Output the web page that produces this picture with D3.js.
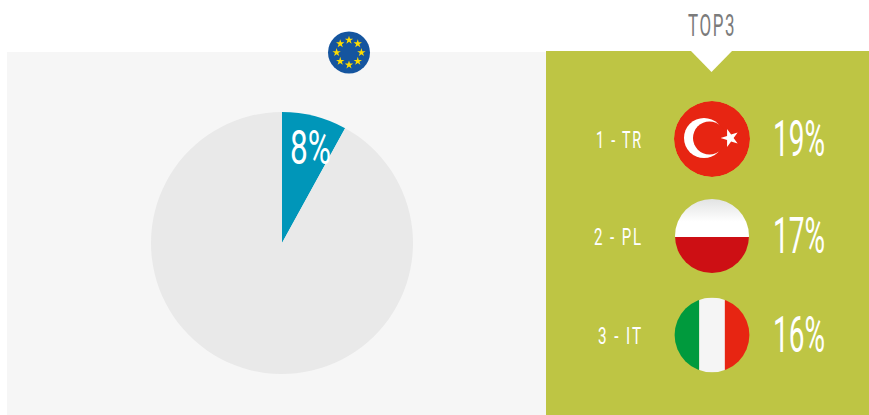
<!DOCTYPE html>
<html>
<head>
<meta charset="utf-8">
<script src="https://cdnjs.cloudflare.com/ajax/libs/d3/7.8.5/d3.min.js"></script>
<style>
  html, body { margin: 0; padding: 0; background: #fff; }
  svg { display: block; }
  text { font-family: "Roboto", "Liberation Sans", sans-serif; font-weight: 400; fill: #fff; }
</style>
</head>
<body>
<svg id="chart" width="869" height="415"></svg>
<script>
// Values
const shareLabels = ["EU", "Other"];
const shareValues = [8, 92];
const topCodes = ["TR", "PL", "IT"];
const topValues = [19, 17, 16];
const headline = "TOP3";

const svg = d3.select("#chart");
const defs = svg.append("defs");

// Panels
svg.append("rect").attr("x", 7).attr("y", 52).attr("width", 539).attr("height", 363).attr("fill", "#f6f6f6");
svg.append("rect").attr("x", 546).attr("y", 51).attr("width", 323).attr("height", 364).attr("fill", "#bec544");
svg.append("path").attr("d", d3.line()([[690, 50], [733, 50], [711.5, 72]]) + "Z").attr("fill", "#fff");

// Pie
const pieCenter = [282, 243];
const pieRadius = 131;
const pieColor = d3.scaleOrdinal().domain(shareLabels).range(["#0096b9", "#e9e9e9"]);
const arcs = d3.pie().sort(null)(shareValues);
const arc = d3.arc().innerRadius(0).outerRadius(pieRadius);
svg.append("g").attr("transform", `translate(${pieCenter})`)
  .selectAll("path").data(arcs).join("path")
  .attr("d", arc)
  .attr("fill", (d, i) => pieColor(shareLabels[i]));

// Condensed display text: the drawn width is fixed so the glyphs narrow to fit
function label(parent, str, x, baseline, size, width, fill, tracking) {
  return parent.append("text")
    .attr("x", x).attr("y", baseline)
    .attr("font-size", size)
    .attr("textLength", width)
    .attr("lengthAdjust", "spacingAndGlyphs")
    .style("letter-spacing", (tracking || 0) + "px")
    .style("fill", fill || "#fff")
    .text(str);
}

label(svg, shareValues[0] + "%", 290, 163.5, 49, 41);
label(svg, headline, 688, 35.5, 32, 48, "#7b7b7b", 3);

// EU emblem
const eu = svg.append("g").attr("transform", "translate(349,52.5)");
eu.append("circle").attr("r", 21).attr("fill", "#15559f");
const euStars = d3.range(8).map(i => i * 45);
eu.selectAll("path").data(euStars).join("path")
  .attr("d", d3.symbol().type(d3.symbolStar).size(22)())
  .attr("transform", a => `rotate(${a}) translate(0,-12.4) rotate(${-a})`)
  .attr("fill", "#ffdc00");

// Ranking rows
const rowY = d3.scalePoint().domain(topCodes).range([139, 335]);
const rowNudge = { TR: 0, PL: -1, IT: 0 };
const rowRadius = { TR: 38, PL: 37, IT: 37.4 };
const codeX = { TR: 596, PL: 594, IT: 598 };
const codeWidth = { TR: 47, PL: 49, IT: 45 };
const flagX = 712;

const rows = svg.selectAll("g.row").data(topCodes).join("g")
  .attr("class", "row")
  .attr("transform", d => `translate(0,${rowY(d) + rowNudge[d]})`);

rows.each(function (code, i) {
  const row = d3.select(this);
  label(row, `${i + 1} - ${code}`, codeX[code], 9, 24, codeWidth[code], "#fff", 3);
  label(row, topValues[i] + "%", 773, 16.5, 50, 52);

  const r = rowRadius[code];
  const clipId = "clip-" + code;
  defs.append("clipPath").attr("id", clipId).append("circle").attr("cx", flagX).attr("r", r);
  const clipped = row.append("g").attr("clip-path", `url(#${clipId})`);

  if (code === "TR") {
    clipped.append("circle").attr("cx", flagX).attr("r", r).attr("fill", "#e72512");
    clipped.append("circle").attr("cx", flagX - 8).attr("cy", -1).attr("r", 20).attr("fill", "#fff");
    clipped.append("circle").attr("cx", flagX - 2.5).attr("cy", -1).attr("r", 16.5).attr("fill", "#e72512");
    clipped.append("path")
      .attr("d", d3.symbol().type(d3.symbolStar).size(100)())
      .attr("transform", `translate(${flagX + 18},-1) rotate(-18)`)
      .attr("fill", "#fff");
  } else if (code === "PL") {
    const grad = defs.append("linearGradient").attr("id", "pl-white")
      .attr("x1", 0).attr("y1", 0).attr("x2", 0).attr("y2", 1);
    grad.append("stop").attr("offset", 0).attr("stop-color", "#e2e3e3");
    grad.append("stop").attr("offset", 0.6).attr("stop-color", "#ffffff");
    clipped.append("rect").attr("x", flagX - r).attr("y", -r).attr("width", 2 * r).attr("height", r + 1).attr("fill", "url(#pl-white)");
    clipped.append("rect").attr("x", flagX - r).attr("y", 1).attr("width", 2 * r).attr("height", r).attr("fill", "#cd0f14");
  } else {
    const stripes = ["#009a3d", "#f5f5f5", "#e72512"];
    const stripeX = d3.scaleBand().domain(d3.range(3)).range([flagX - 38.5, flagX + 38.5]);
    clipped.selectAll("rect").data(stripes).join("rect")
      .attr("x", (d, k) => stripeX(k)).attr("y", -r)
      .attr("width", stripeX.bandwidth() + 0.3).attr("height", 2 * r)
      .attr("fill", d => d);
  }
});
</script>
</body>
</html>
